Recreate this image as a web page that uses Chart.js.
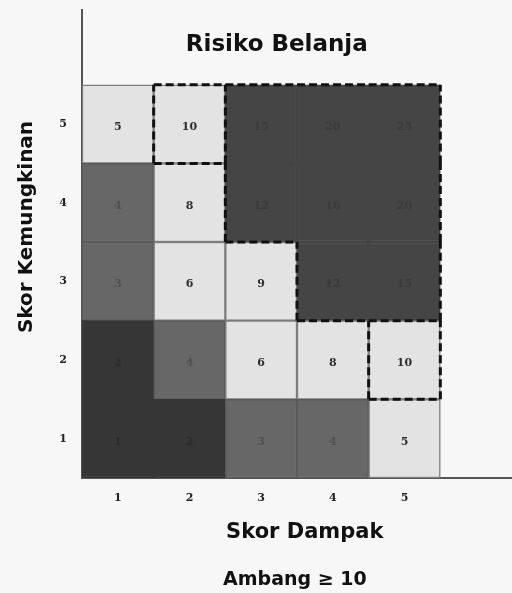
<!DOCTYPE html>
<html>
<head>
<meta charset="utf-8">
<script src="https://cdn.jsdelivr.net/npm/chart.js@4"></script>
<style>
  html, body { margin: 0; padding: 0; background: #f7f7f7; }
  #c { display: block; }
</style>
</head>
<body>
<canvas id="c" width="512" height="593"></canvas>
<script>
// ---- data ----
const impactLabels = ['1', '2', '3', '4', '5'];      // Skor Dampak (x)
const likelihoodLabels = [1, 2, 3, 4, 5];             // Skor Kemungkinan (y)
// scores[row = likelihood-1][col = impact-1]
const scoresL1 = [1, 2, 3, 4, 5];
const scoresL2 = [2, 4, 6, 8, 10];
const scoresL3 = [3, 6, 9, 12, 15];
const scoresL4 = [4, 8, 12, 16, 20];
const scoresL5 = [5, 10, 15, 20, 25];
const scores = [scoresL1, scoresL2, scoresL3, scoresL4, scoresL5];
const threshold = 10;
const chartTitle = 'Risiko Belanja';
const xTitle = 'Skor Dampak';
const yTitle = 'Skor Kemungkinan';
const noteText = 'Ambang \u2265 10';

// ---- styling helpers ----
function fillFor(v) {
  if (v > threshold) return '#454545';
  if (v >= 5) return '#e3e3e3';
  if (v >= 3) return '#676767';
  return '#363636';
}
function borderFor(v) {
  if (v > threshold) return '#454545';
  if (v >= 5) return '#7d7d7d';
  if (v >= 3) return '#5a5a5a';
  return '#363636';
}
function textFor(v) {
  if (v > threshold) return '#3b3b3b';
  if (v >= 5) return '#2e2e2e';
  if (v >= 3) return '#505050';
  return '#2c2c2c';
}

// ---- bar datasets: one per likelihood row ----
const barDatasets = likelihoodLabels.map((lk, r) => ({
  type: 'bar',
  label: 'L' + lk,
  data: scores[r].map(() => [lk - 0.5, lk + 0.5]),
  scoreValues: scores[r],
  backgroundColor: scores[r].map(fillFor),
  borderColor: scores[r].map(borderFor),
  borderWidth: 1.5,
  borderSkipped: false,
  grouped: false,
  barPercentage: 1,
  categoryPercentage: 1,
  xAxisID: 'x',
  yAxisID: 'y',
  order: 2
}));

// ---- threshold outline derived from the scores ----
function cls(c, r) {
  if (c < 0 || r < 0 || c >= impactLabels.length || r >= likelihoodLabels.length) return 0;
  const v = scores[r][c];
  return v < threshold ? 0 : (v === threshold ? 1 : 2);
}
const edgePts = [];
const nC = impactLabels.length, nR = likelihoodLabels.length;
for (let r = 0; r < nR; r++) {
  for (let k = 0; k <= nC; k++) {
    const a = cls(k - 1, r), b = cls(k, r);
    if (a !== b && (a > 0 || b > 0)) {
      edgePts.push({x: k + 0.5, y: r + 0.5}, {x: k + 0.5, y: r + 1.5}, {x: k + 0.5, y: null});
    }
  }
}
for (let c = 0; c < nC; c++) {
  for (let k = 0; k <= nR; k++) {
    const a = cls(c, k - 1), b = cls(c, k);
    if (a !== b && (a > 0 || b > 0)) {
      edgePts.push({x: c + 0.5, y: k + 0.5}, {x: c + 1.5, y: k + 0.5}, {x: c + 1, y: null});
    }
  }
}
const outlineDataset = {
  type: 'line',
  label: 'ambang',
  data: edgePts,
  borderColor: '#111111',
  borderWidth: 3,
  borderDash: [8, 4],
  pointRadius: 0,
  spanGaps: false,
  tension: 0,
  fill: false,
  xAxisID: 'xl',
  yAxisID: 'y',
  order: 0
};

// ---- plugins: cell numbers and texts ----
const cellText = {
  id: 'cellText',
  afterDatasetsDraw(chart) {
    const ctx = chart.ctx;
    ctx.save();
    ctx.font = 'bold 11px "DejaVu Serif"';
    ctx.textAlign = 'center';
    ctx.textBaseline = 'middle';
    chart.data.datasets.forEach((ds, i) => {
      if (ds.type !== 'bar') return;
      const meta = chart.getDatasetMeta(i);
      meta.data.forEach((el, j) => {
        const v = ds.scoreValues[j];
        const p = el.getCenterPoint();
        ctx.fillStyle = textFor(v);
        ctx.fillText(String(v), p.x, p.y + 3);
      });
    });
    ctx.restore();
  }
};
const texts = {
  id: 'texts',
  afterDraw(chart) {
    const {ctx, chartArea, width, height} = chart;
    const w = chartArea.right - chartArea.left;
    ctx.save();
    ctx.fillStyle = '#111111';
    ctx.textAlign = 'center';
    ctx.textBaseline = 'middle';
    ctx.font = 'bold 23px "DejaVu Sans"';
    ctx.fillText(chartTitle, chartArea.left + w * 0.453, chartArea.top + 35);
    ctx.font = 'bold 21px "DejaVu Sans"';
    ctx.fillText(xTitle, chartArea.left + w * 0.518, chartArea.bottom + 55);
    ctx.font = 'bold 19px "DejaVu Sans"';
    ctx.fillText(noteText, chartArea.left + w * 0.495, height - 13);
    ctx.translate(27, 227);
    ctx.rotate(-Math.PI / 2);
    ctx.font = 'bold 20px "DejaVu Sans"';
    ctx.fillText(yTitle, 0, 0);
    ctx.restore();
  }
};

new Chart(document.getElementById('c'), {
  data: {
    labels: [...impactLabels, ''],
    datasets: [outlineDataset, ...barDatasets]
  },
  options: {
    responsive: false,
    animation: false,
    layout: { autoPadding: false, padding: { top: 10, bottom: 45, left: 0, right: 0 } },
    plugins: { legend: { display: false }, tooltip: { enabled: false }, title: { display: false } },
    scales: {
      x: {
        type: 'category',
        offset: true,
        grid: { display: false },
        border: { display: true, color: '#555555', width: 2 },
        ticks: { color: '#222222', font: { family: 'DejaVu Serif', weight: 'bold', size: 11 }, padding: 6, maxRotation: 0 },
        afterFit(s) { s.height = 70; s.paddingLeft = 0; s.paddingRight = 0; }
      },
      xl: {
        type: 'linear',
        display: false,
        min: 0.5,
        max: 6.5
      },
      y: {
        type: 'linear',
        min: 0.5,
        max: 6.45,
        grid: { display: false },
        border: { display: true, color: '#555555', width: 2 },
        ticks: { color: '#222222', font: { family: 'DejaVu Serif', weight: 'bold', size: 11 }, padding: 7 },
        afterBuildTicks(s) { s.ticks = likelihoodLabels.map(v => ({ value: v })); },
        afterFit(s) { s.width = 82; s.paddingTop = 0; s.paddingBottom = 0; }
      }
    }
  },
  plugins: [cellText, texts]
});
</script>
</body>
</html>
